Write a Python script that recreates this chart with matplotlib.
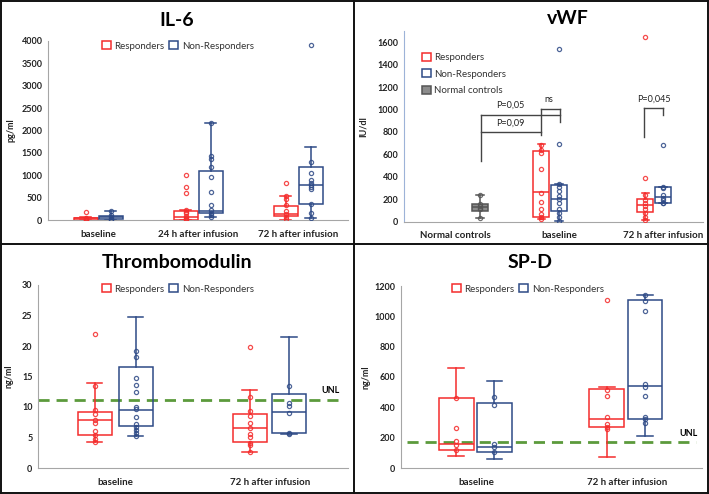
import numpy as np
import matplotlib
matplotlib.use("Agg")
import matplotlib.pyplot as plt
from matplotlib.patches import Patch
from matplotlib.lines import Line2D

plt.rcParams['font.family'] = ['Lato', 'DejaVu Sans']

RED = '#F42C2C'
BLUE = '#2E4A86'
GREY = '#8C8C8C'
GREEN = '#5C9A3C'

# ---- data: box stats are (q1, median, q3, whisker_low, whisker_high) ----
il6_cats = ['baseline', '24 h after infusion', '72 h after infusion']
il6_resp_box = [(10, 35, 55, 0, 60), (5, 70, 200, 0, 230), (89, 134, 313, 0, 544)]
il6_nonresp_box = [(15, 60, 100, 0, 205), (164, 209, 1103, 75, 2161), (358, 775, 1177, 37, 1639)]
il6_resp_pts = [[185, 50, 30, 10, 0],
                [1000, 730, 600, 230, 180, 150, 90, 50, 20, 0],
                [834, 544, 460, 330, 200, 125, 75, 20]]
il6_nonresp_pts = [[205, 110, 60, 20, 0],
                   [2161, 1430, 1356, 1192, 968, 619, 343, 223, 164, 112, 75],
                   [3911, 1304, 1043, 894, 834, 782, 745, 686, 358, 164, 37]]

vwf_cats = ['Normal controls', 'baseline', '72 h after infusion']
vwf_ctrl_box = (98, 128, 158, 30, 238)
vwf_ctrl_pts = [238, 155, 140, 125, 110, 30]
vwf_resp_box = [(45, 262, 633, 25, 690), (89, 149, 202, 15, 253)]
vwf_nonresp_box = [(98, 202, 327, 5, 336), (170, 223, 312, 164, 312)]
vwf_resp_pts = [[685, 640, 610, 470, 260, 175, 115, 70, 45, 25],
                [1645, 387, 240, 195, 170, 140, 110, 75, 45, 15]]
vwf_nonresp_pts = [[1540, 690, 335, 310, 270, 225, 200, 165, 110, 75, 45, 5],
                   [684, 310, 300, 240, 215, 195, 170, 164]]

tm_cats = ['baseline', '72 h after infusion']
tm_resp_box = [(5.4, 7.8, 9.2, 4.2, 14.0), (4.3, 6.6, 8.9, 2.6, 12.8)]
tm_nonresp_box = [(6.9, 9.5, 16.5, 5.2, 24.7), (5.7, 9.1, 12.1, 5.6, 21.5)]
tm_resp_pts = [[22, 13.5, 9.5, 8.8, 7.8, 7.4, 6.0, 5.4, 4.8, 4.3],
               [19.9, 11.7, 9.3, 8.6, 7.4, 6.5, 5.6, 5.1, 4.1, 3.8, 2.6]]
tm_nonresp_pts = [[19.2, 18.2, 14.8, 13.6, 12.4, 10.0, 9.6, 8.3, 7.2, 6.8, 6.3, 5.8, 5.3],
                  [13.4, 10.7, 10.2, 9.0, 5.7, 5.6]]
tm_unl = 11.2

spd_cats = ['baseline', '72 h after infusion']
spd_resp_box = [(116, 160, 464, 77, 661), (269, 322, 519, 72, 536)]
spd_nonresp_box = [(105, 138, 427, 61, 574), (324, 543, 1110, 208, 1143)]
spd_resp_pts = [[464, 261, 175, 153, 116], [1106, 515, 475, 339, 291, 269, 256]]
spd_nonresp_pts = [[471, 416, 160, 138, 105], [1143, 1099, 1038, 552, 534, 475, 333, 324, 296]]
spd_unl = 170

W, H = 709, 494
fig = plt.figure(figsize=(W / 100, H / 100), dpi=100)


def px_axes(l, t, r, b):
    return fig.add_axes([l / W, 1 - b / H, (r - l) / W, (b - t) / H])


def draw_boxes(ax, pos, boxes, pts, color, width, face='none', edge=None):
    edge = edge or color
    stats = [dict(q1=q1, med=m, q3=q3, whislo=lo, whishi=hi, fliers=[])
             for q1, m, q3, lo, hi in boxes]
    ax.bxp(stats, positions=pos, widths=width, showfliers=False, patch_artist=True,
           capwidths=width * 0.45,
           boxprops=dict(facecolor=face, edgecolor=edge, linewidth=1.1),
           medianprops=dict(color=edge, linewidth=1.1),
           whiskerprops=dict(color=edge, linewidth=1.1),
           capprops=dict(color=edge, linewidth=1.1), manage_ticks=False)
    for x, p in zip(pos, pts):
        ax.plot(np.full(len(p), x), p, 'o', mfc='none', mec=edge, ms=3, mew=0.9,
                alpha=0.85, zorder=4)


def style(ax, cats, ylim, yticks, ylabel, spine='#A6A6A6'):
    for s in ['top', 'right']:
        ax.spines[s].set_visible(False)
    ax.spines['left'].set_color(spine)
    ax.spines['bottom'].set_color('#A6A6A6')
    ax.set_ylim(*ylim)
    ax.set_yticks(yticks)
    ax.set_xticks(range(len(cats)))
    ax.set_xticklabels(cats, fontweight='bold', fontsize=7, color='#222222')
    ax.tick_params(axis='x', length=0, pad=7)
    ax.tick_params(axis='y', length=0, pad=4, labelsize=6.5, labelcolor='#222222')
    for t in ax.get_yticklabels():
        t.set_fontweight('bold')
    ax.set_ylabel(ylabel, fontsize=6.5, fontweight='bold', color='#222222')


def legend2(ax, x, y):
    h = [Patch(facecolor='none', edgecolor=RED, linewidth=1.1),
         Patch(facecolor='none', edgecolor=BLUE, linewidth=1.1)]
    ax.legend(h, ['Responders', 'Non-Responders'], ncol=2, frameon=False,
              loc='center', bbox_to_anchor=(x / W, 1 - y / H), bbox_transform=fig.transFigure,
              fontsize=7, handlelength=0.9, handleheight=0.9, handletextpad=0.4,
              columnspacing=0.5, labelcolor='#333333')


# ---- IL-6 ----
ax = px_axes(48, 41, 348, 220)
draw_boxes(ax, [-0.125, 0.875, 1.875], il6_resp_box, il6_resp_pts, RED, 0.24)
draw_boxes(ax, [0.125, 1.125, 2.125], il6_nonresp_box, il6_nonresp_pts, BLUE, 0.24)
ax.set_xlim(-0.5, 2.5)
style(ax, il6_cats, (0, 4000), range(0, 4001, 500), 'pg/ml')
ax.yaxis.set_label_coords(-0.11, 0.5)
legend2(ax, 178, 46)
fig.text(177 / W, 1 - 20 / H, 'IL-6', ha='center', va='center', fontsize=14, fontweight='bold')

# ---- vWF ----
ax = px_axes(404, 31, 703, 221.7)
draw_boxes(ax, [0.24], [vwf_ctrl_box], [vwf_ctrl_pts], GREY, 0.155, face=GREY, edge='#555555')
draw_boxes(ax, [0.83, 1.83], vwf_resp_box, vwf_resp_pts, RED, 0.155)
draw_boxes(ax, [1.0, 2.0], vwf_nonresp_box, vwf_nonresp_pts, BLUE, 0.155)
ax.set_xlim(-0.49, 2.385)
style(ax, vwf_cats, (0, 1700), range(0, 1601, 200), 'IU/dl', spine='#9DB3D8')
ax.yaxis.set_label_coords(-0.12, 0.5)
bc = '#444444'
for xs, ys in [([0.247, 0.247], [544, 952]), ([0.247, 1.01], [952, 952]),
               ([0.247, 0.824], [803, 803]), ([0.824, 0.824], [773, 1003]),
               ([0.824, 1.01], [1003, 1003]), ([1.01, 1.01], [892, 1003]),
               ([1.817, 1.817], [753, 1012]), ([1.817, 2.0], [1012, 1012]),
               ([2.0, 2.0], [952, 1012])]:
    ax.plot(xs, ys, color=bc, lw=1)
for x, y, s in [(0.53, 1040, 'P=0,05'), (0.53, 880, 'P=0,09'), (0.9, 1085, 'ns'),
                (1.91, 1090, 'P=0,045')]:
    ax.text(x, y, s, ha='center', va='center', fontsize=6.5, color='#222222')
h = [Patch(facecolor='none', edgecolor=RED, linewidth=1.1),
     Patch(facecolor='none', edgecolor=BLUE, linewidth=1.1),
     Patch(facecolor=GREY, edgecolor='#555555', linewidth=1.1)]
ax.legend(h, ['Responders', 'Non-Responders', 'Normal controls'], frameon=False,
          loc='upper left', bbox_to_anchor=(413 / W, 1 - 44 / H), bbox_transform=fig.transFigure,
          fontsize=7, handlelength=0.9, handleheight=0.9, handletextpad=0.4,
          labelspacing=0.75, labelcolor='#333333')
fig.text(568 / W, 1 - 18 / H, 'vWF', ha='center', va='center', fontsize=14, fontweight='bold')

# ---- Thrombomodulin ----
ax = px_axes(38, 285, 348, 468)
draw_boxes(ax, [-0.135, 0.865], tm_resp_box, tm_resp_pts, RED, 0.22)
draw_boxes(ax, [0.13, 1.12], tm_nonresp_box, tm_nonresp_pts, BLUE, 0.22)
ax.set_xlim(-0.5, 1.5)
ax.plot([-0.5, 1.46], [tm_unl, tm_unl], color=GREEN, lw=2, dashes=(4, 2.5), zorder=1)
ax.text(1.39, tm_unl + 0.8, 'UNL', fontsize=6.5, fontweight='bold', va='bottom', ha='center')
style(ax, tm_cats, (0, 30), range(0, 31, 5), 'ng/ml')
ax.yaxis.set_label_coords(-0.08, 0.5)
legend2(ax, 178, 289)
fig.text(177 / W, 1 - 263 / H, 'Thrombomodulin', ha='center', va='center', fontsize=14,
         fontweight='bold')

# ---- SP-D ----
ax = px_axes(401, 286, 702, 468)
draw_boxes(ax, [-0.133, 0.867], spd_resp_box, spd_resp_pts, RED, 0.23)
draw_boxes(ax, [0.12, 1.12], spd_nonresp_box, spd_nonresp_pts, BLUE, 0.23)
ax.set_xlim(-0.5, 1.5)
ax.plot([-0.46, 1.46], [spd_unl, spd_unl], color=GREEN, lw=2, dashes=(4, 2.5), zorder=1)
ax.text(1.41, spd_unl + 30, 'UNL', fontsize=6.5, fontweight='bold', va='bottom', ha='center')
style(ax, spd_cats, (0, 1200), range(0, 1201, 200), 'ng/ml')
ax.yaxis.set_label_coords(-0.1, 0.5)
legend2(ax, 528, 289)
fig.text(530 / W, 1 - 263 / H, 'SP-D', ha='center', va='center', fontsize=14, fontweight='bold')

# ---- panel borders ----
for xs, ys in [([1, 708], [1, 1]), ([1, 708], [493, 493]), ([1, 1], [1, 493]),
               ([708, 708], [1, 493]), ([354, 354], [1, 493]), ([1, 708], [244, 244])]:
    fig.add_artist(Line2D([x / W for x in xs], [1 - y / H for y in ys], color='#111111',
                          lw=1.4, transform=fig.transFigure))

fig.savefig('out.png', dpi=100)
